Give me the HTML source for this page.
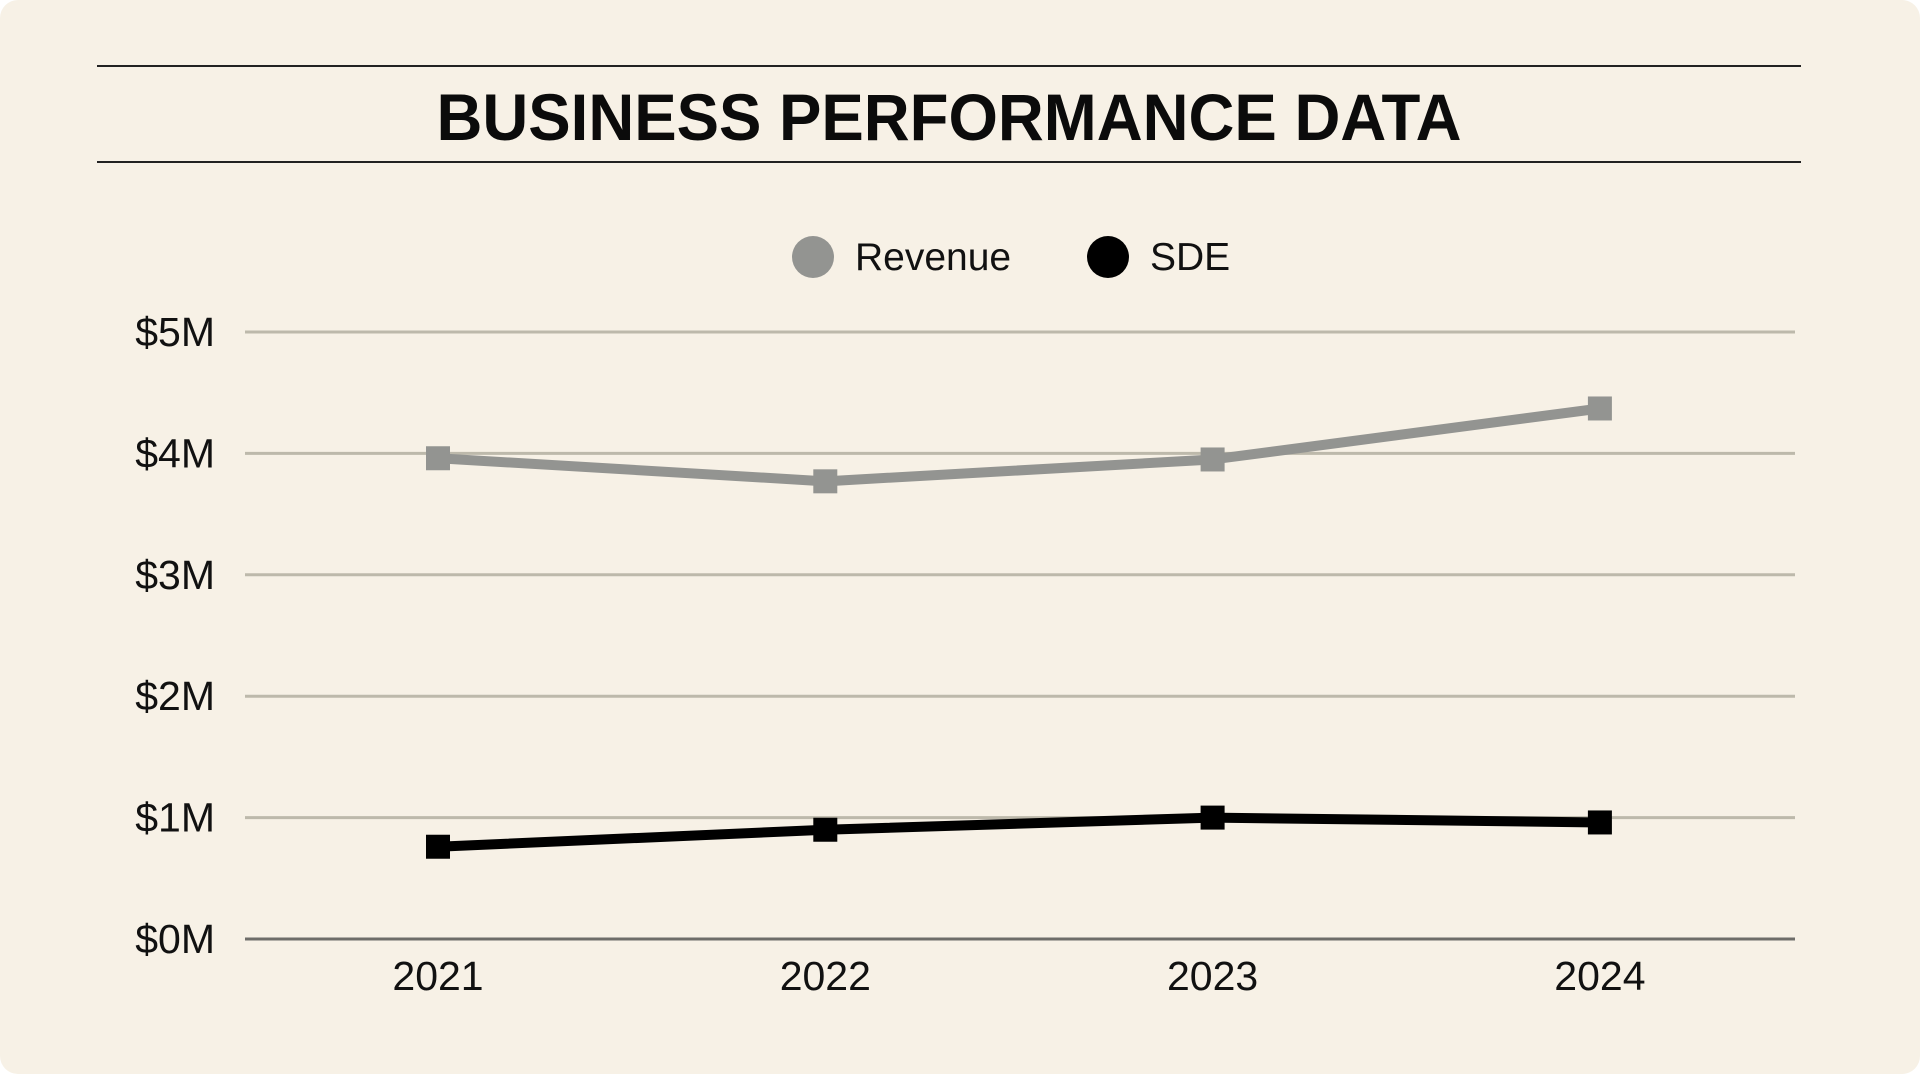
<!DOCTYPE html>
<html><head><meta charset="utf-8"><style>
html,body{margin:0;padding:0;background:#fff;}
#card{position:absolute;left:0;top:0;width:1920px;height:1074px;background:#f7f1e6;border-radius:18px;overflow:hidden;}
svg{position:absolute;left:0;top:0;font-family:"Liberation Sans",sans-serif;}
</style></head><body>
<div id="card">
<svg id="chart" width="1920" height="1074">
  <line x1="97" y1="66" x2="1801" y2="66" stroke="#222" stroke-width="2"/>
  <line x1="97" y1="162" x2="1801" y2="162" stroke="#222" stroke-width="2"/>
  <text x="949" y="140" text-anchor="middle" font-size="66" font-weight="bold" fill="#0b0b0b" textLength="1025" lengthAdjust="spacingAndGlyphs">BUSINESS PERFORMANCE DATA</text>
  <g>
    <g>
      <circle cx="813" cy="257" r="21" fill="#939491"/>
      <text x="855" y="270" font-size="39" fill="#111">Revenue</text>
    </g>
    <g>
      <circle cx="1108" cy="257" r="21" fill="#000"/>
      <text x="1150" y="270" font-size="39" fill="#111">SDE</text>
    </g>
  </g>
  <g id="grid"></g>
  <g id="ylabels"></g>
  <g id="xlabels"></g>
  <g id="series"></g>
</svg>
</div>
<script>
const categories = ["2021","2022","2023","2024"];
const revenue = [3.96, 3.77, 3.95, 4.37];
const sde = [0.76, 0.90, 1.00, 0.96];
const yTicks = [0,1,2,3,4,5];
const yTickLabels = ["$0M","$1M","$2M","$3M","$4M","$5M"];

const NS="http://www.w3.org/2000/svg";
const plotL=245, plotR=1795, y0=939, y5=332;
function yScale(v){return y0-(v/5)*(y0-y5);}
function xScale(i){return 438+i*387.3;}
function mk(tag,attrs,parent){const e=document.createElementNS(NS,tag);for(const k in attrs)e.setAttribute(k,attrs[k]);parent.appendChild(e);return e;}

const grid=document.getElementById('grid'), yl=document.getElementById('ylabels'), xl=document.getElementById('xlabels'), ser=document.getElementById('series');
yTicks.forEach((t,i)=>{
  const y=yScale(t);
  const l=mk('line',{x1:plotL,x2:plotR,y1:y,y2:y,stroke:t===0?'#6e6d69':'#bdb9ab','stroke-width':3},grid);
  
  
  const tx=mk('text',{x:215,y:y+14,'text-anchor':'end','font-size':41,fill:'#111'},yl);
  tx.textContent=yTickLabels[i];
  
  
});
categories.forEach((c,i)=>{
  const tx=mk('text',{x:xScale(i),y:990,'text-anchor':'middle','font-size':41,fill:'#111'},xl);
  tx.textContent=c;
  
  
});
function drawSeries(vals,color,name){
  const g=mk('g',{},ser);
  
  
  const pts=vals.map((v,i)=>xScale(i)+','+yScale(v)).join(' ');
  const pl=mk('polyline',{points:pts,fill:'none',stroke:color,'stroke-width':10,'stroke-linejoin':'round'},g);
  
  
  vals.forEach((v,i)=>{
    const r=mk('rect',{x:xScale(i)-12,y:yScale(v)-12,width:24,height:24,fill:color},g);
    
    
  });
}
drawSeries(revenue,'#939491','revenue');
drawSeries(sde,'#000','sde');
</script>
</body></html>
